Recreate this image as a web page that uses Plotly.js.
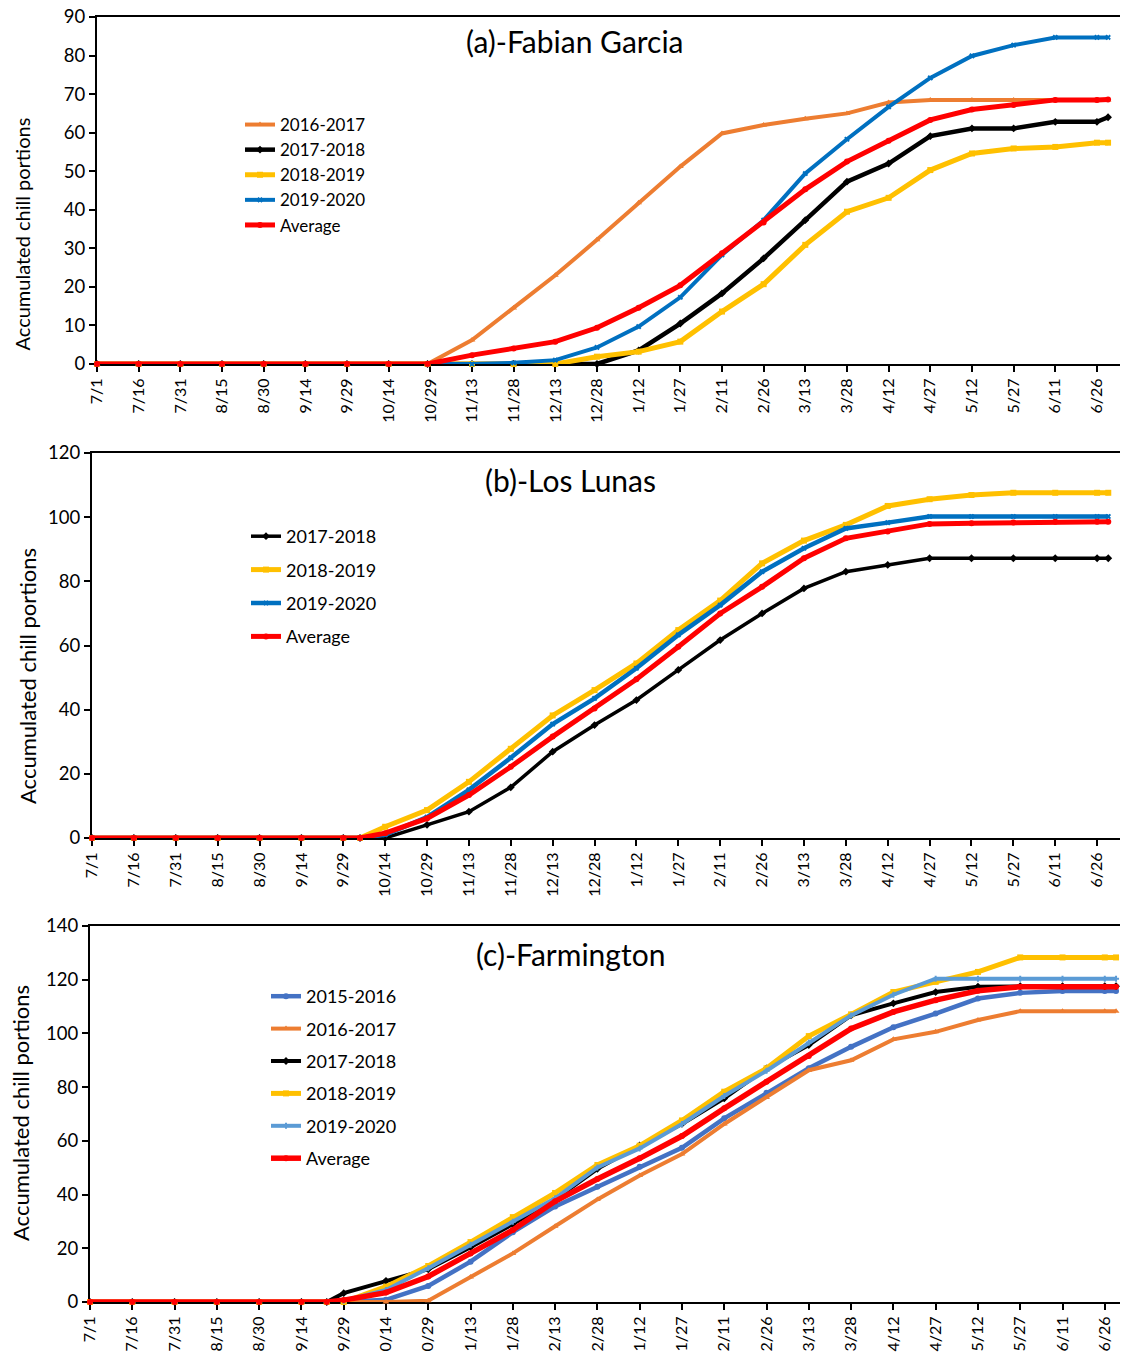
<!DOCTYPE html>
<html>
<head>
<meta charset="utf-8">
<script src="https://cdn.plot.ly/plotly-3.0.1.min.js"></script>
<style>
html,body{margin:0;padding:0;background:#fff;}
#chart{width:1123px;height:1358px;}
</style>
</head>
<body>
<div id="chart"></div>
<script>
// ---------- tick labels ----------
const tickDays = [0,15,30,45,60,75,90,105,120,135,150,165,180,195,210,225,240,255,270,285,300,315,330,345,360];
const tickLabels = ['7/1','7/16','7/31','8/15','8/30','9/14','9/29','10/14','10/29','11/13','11/28','12/13','12/28','1/12','1/27','2/11','2/26','3/13','3/28','4/12','4/27','5/12','5/27','6/11','6/26'];
const tickLabelsC = ['7/1','7/16','7/31','8/15','8/30','9/14','9/29','0/14','0/29','1/13','1/28','2/13','2/28','1/12','1/27','2/11','2/26','3/13','3/28','4/12','4/27','5/12','5/27','6/11','6/26'];

// ---------- (a) Fabian Garcia ----------
const daysA = [0,15,30,45,60,75,90,105,119,135,150,165,180,195,210,225,240,255,270,285,300,315,330,345,360,364];
const a2016 = [0,0,0,0,0,0,0,0,0,6.2,14.5,23.0,32.2,41.8,51.2,59.8,62.0,63.6,65.0,67.8,68.5,68.5,68.5,68.5,68.5,68.5];
const a2017 = [0,0,0,0,0,0,0,0,0,0,0,0,0,3.5,10.5,18.3,27.4,37.3,47.3,52.0,59.1,61.1,61.1,62.8,62.8,64.0];
const a2018 = [0,0,0,0,0,0,0,0,0,0,0,0,1.9,3.2,5.8,13.6,20.7,30.9,39.5,43.1,50.3,54.6,55.9,56.3,57.4,57.4];
const a2019 = [0,0,0,0,0,0,0,0,0,0,0.3,1.0,4.3,9.7,17.3,28.3,37.3,49.4,58.3,66.7,74.2,79.9,82.7,84.7,84.7,84.7];
const aAvg  = [0,0,0,0,0,0,0,0,0,2.3,4.0,5.8,9.4,14.6,20.4,28.7,36.7,45.3,52.5,57.9,63.3,66.0,67.2,68.5,68.5,68.6];

// ---------- (b) Los Lunas ----------
const daysB = [0,15,30,45,60,75,90,96,105,120,135,150,165,180,195,210,225,240,255,270,285,300,315,330,345,360,364];
const b2017 = [0,0,0,0,0,0,0,0,0,4.1,8.2,15.8,26.9,35.2,43.0,52.4,61.7,70.0,77.8,83.0,85.1,87.2,87.2,87.2,87.2,87.2,87.2];
const b2018 = [0,0,0,0,0,0,0,0,3.5,8.7,17.5,27.8,38.2,46.1,54.4,64.8,74.0,85.6,92.7,97.6,103.5,105.6,106.9,107.6,107.6,107.6,107.6];
const b2019 = [0,0,0,0,0,0,0,0,1.0,6.5,15.0,25.0,35.5,43.5,52.9,63.3,72.6,83.0,90.3,96.5,98.3,100.2,100.2,100.2,100.2,100.2,100.2];
const bAvg  = [0,0,0,0,0,0,0,0,1.5,6.1,13.4,22.2,31.6,40.4,49.5,59.6,70.0,78.3,87.2,93.4,95.5,97.9,98.1,98.3,98.6,98.6,98.6];

// ---------- (c) Farmington ----------
const daysC = [0,15,30,45,60,75,84,90,105,120,135,150,165,180,195,210,225,240,255,270,285,300,315,330,345,360,364];
const c2015 = [0,0,0,0,0,0,0,0,0.8,6.0,15.0,26.0,35.6,42.9,50.4,57.4,68.4,77.9,87.0,95.0,102.3,107.4,113.0,115.1,115.8,115.8,115.8];
const c2016 = [0,0,0,0,0,0,0,0,0,0.5,9.3,18.1,28.2,38.2,47.1,55.1,66.3,76.1,86.3,90.0,97.8,100.6,105.0,108.3,108.3,108.3,108.3];
const c2017 = [0,0,0,0,0,0,0,3.3,7.9,12.2,20.4,29.0,38.2,49.6,58.3,66.3,75.8,87.0,95.7,106.7,111.2,115.4,117.4,117.6,117.6,117.6,117.6];
const c2018 = [0,0,0,0,0,0,0,0,5.7,13.4,22.3,31.6,40.6,51.0,58.2,67.6,78.3,87.0,99.0,107.1,115.4,119.2,122.9,128.3,128.3,128.3,128.3];
const c2019 = [0,0,0,0,0,0,0,0.5,4.5,12.6,21.3,29.9,38.6,50.1,57.2,66.3,76.7,86.1,96.6,106.7,114.4,120.4,120.4,120.4,120.4,120.4,120.4];
const cAvg  = [0,0,0,0,0,0,0,0.7,3.5,9.5,18.1,26.8,37.5,45.8,53.5,61.8,72.1,82.0,91.6,101.8,108.0,112.4,115.9,117.4,117.4,117.4,117.4];

// ---------- styling ----------
const FONT = 'Lato, "Open Sans", sans-serif';
const C = {orange:'#ED7D31', black:'#000000', yellow:'#FFC000', blue:'#0070C0', red:'#FF0000', blue15:'#4472C4', lblue:'#5B9BD5'};

function tr(x, y, name, color, symbol, ax, leg, width, msize){
  return {
    type:'scatter', mode:'lines+markers', x:x, y:y, name:name,
    xaxis:'x'+ax, yaxis:'y'+ax, legend:leg, legendgroup:leg+name,
    line:{color:color, width:width||4},
    marker:{color:color, symbol:symbol, size:msize||6},
    cliponaxis:false, hoverinfo:'x+y+name'
  };
}

const data = [
  tr(daysA, a2016, '2016-2017', C.orange, 'triangle-up', '', 'legend', 4),
  tr(daysA, a2017, '2017-2018', C.black, 'diamond', '', 'legend', 4.5),
  tr(daysA, a2018, '2018-2019', C.yellow, 'square', '', 'legend', 5),
  tr(daysA, a2019, '2019-2020', C.blue, 'x', '', 'legend', 4, 5),
  tr(daysA, aAvg, 'Average', C.red, 'circle', '', 'legend', 5),

  tr(daysB, b2017, '2017-2018', C.black, 'diamond', '2', 'legend2', 3.5),
  tr(daysB, b2018, '2018-2019', C.yellow, 'square', '2', 'legend2', 5),
  tr(daysB, b2019, '2019-2020', C.blue, 'x', '2', 'legend2', 4.5, 5),
  tr(daysB, bAvg, 'Average', C.red, 'circle', '2', 'legend2', 5),

  tr(daysC, c2015, '2015-2016', C.blue15, 'circle', '3', 'legend3', 4.5),
  tr(daysC, c2016, '2016-2017', C.orange, 'triangle-up', '3', 'legend3', 4),
  tr(daysC, c2017, '2017-2018', C.black, 'diamond', '3', 'legend3', 4),
  tr(daysC, c2018, '2018-2019', C.yellow, 'square', '3', 'legend3', 5),
  tr(daysC, c2019, '2019-2020', C.lblue, 'cross', '3', 'legend3', 4, 5),
  tr(daysC, cAvg, 'Average', C.red, 'circle', '3', 'legend3', 5.5)
];

const W = 1123, H = 1358;
const px = v => v / W;
const py = v => 1 - v / H;

function xax(left, right, range, labels){
  return {
    domain:[px(left), px(right)], range:range, tickmode:'array', tickvals:tickDays, ticktext:labels,
    tickangle:-90, ticks:'outside', ticklen:6, tickwidth:2, tickcolor:'#000',
    showline:true, linecolor:'#000', linewidth:2, mirror:true, showgrid:false, zeroline:false,
    tickfont:{family:FONT, size:16, color:'#000'}, layer:'below traces', fixedrange:true
  };
}
function yax(top, bottom, range, dtick){
  return {
    domain:[py(bottom), py(top)], range:range, dtick:dtick, tick0:0,
    ticks:'outside', ticklen:6, tickwidth:2, tickcolor:'#000',
    showline:true, linecolor:'#000', linewidth:2, showgrid:false, zeroline:false,
    tickfont:{family:FONT, size:18.5, color:'#000'}, layer:'below traces', fixedrange:true
  };
}
function legend(x, top, gap, fsize, order){
  return {
    x:px(x), y:py(top), xanchor:'left', yanchor:'top', bgcolor:'rgba(0,0,0,0)', borderwidth:0,
    font:{family:FONT, size:fsize, color:'#000'}, traceorder:order, tracegroupgap:gap
  };
}
function ann(text, x, y, size, angle){
  return {text:text, x:px(x), y:py(y), xref:'paper', yref:'paper', showarrow:false,
    xanchor:'center', yanchor:'middle', textangle:angle||0, font:{family:FONT, size:size, color:'#000'}};
}

const layout = {
  width:W, height:H, margin:{l:0, r:0, t:0, b:0}, paper_bgcolor:'#fff', plot_bgcolor:'#fff',
  showlegend:true,
  xaxis: Object.assign(xax(97, 1120, [0, 368.3], tickLabels), {anchor:'y'}),
  yaxis: Object.assign(yax(17, 364, [0, 90], 10), {anchor:'x'}),
  xaxis2: Object.assign(xax(92, 1120, [0, 368.2], tickLabels), {anchor:'y2'}),
  yaxis2: Object.assign(yax(453, 838, [0, 120], 20), {anchor:'x2'}),
  xaxis3: Object.assign(xax(90, 1120, [0, 365.4], tickLabelsC), {anchor:'y3'}),
  yaxis3: Object.assign(yax(926, 1302, [0, 140], 20), {anchor:'x3'}),
  legend: legend(240, 107, 0, 17, 'normal'),
  legend2: legend(246, 518, 7, 18, 'grouped'),
  legend3: legend(266, 978, 6, 18, 'grouped'),
  annotations:[
    ann('(a)-Fabian Garcia', 575, 41, 30),
    ann('(b)-Los Lunas', 570, 480, 30),
    ann('(c)-Farmington', 570, 954, 30),
    ann('Accumulated chill portions', 21, 234.5, 20, -90),
    ann('Accumulated chill portions', 27, 676, 22, -90),
    ann('Accumulated chill portions', 20, 1113, 22, -90)
  ]
};

Plotly.newPlot('chart', data, layout, {displayModeBar:false, staticPlot:true});
</script>
</body>
</html>
